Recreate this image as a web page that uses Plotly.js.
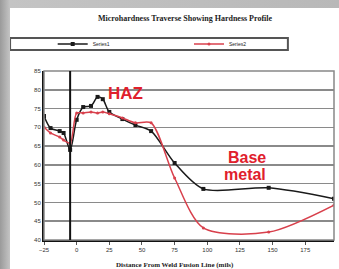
<!DOCTYPE html>
<html><head><meta charset="utf-8">
<script src="https://cdn.plot.ly/plotly-3.0.1.min.js"></script>
<style>
html,body{margin:0;padding:0;width:339px;height:269px;overflow:hidden;
background:linear-gradient(to right,#9a9a9a 0px,#c4c4c4 10px,#b8b8b8 100%);}
#chart{position:absolute;left:10px;top:8px;width:329px;height:261px;background:#fff;}
</style></head>
<body><div id="chart"></div>
<script>
const distance = [-25,-20,-13,-10,-5,0,5,11,16,20,25,35,45,57,75,97,147,197];
const traverse1 = [73.0,69.8,69.0,68.5,64.0,72.0,75.4,75.7,78.1,77.5,74.1,72.2,70.6,69.0,60.5,53.6,53.9,51.0];
const traverse2 = [70.1,68.5,67.4,66.6,65.8,73.8,73.8,74.1,73.8,74.1,73.6,72.5,71.2,71.2,56.5,43.2,42.1,49.3];
const seriesNames = ["Series1","Series2"];
const fusionLine = -5;
const yTicks = [40,45,50,55,60,65,70,75,80,85];
const xTicks = [-25,0,25,50,75,100,125,150,175];

const traces = [
 {x:distance,y:traverse1,name:seriesNames[0],type:'scatter',mode:'lines+markers',legend:'legend',
  line:{color:'#1a1a1a',width:1.5,shape:'spline',smoothing:0.8},
  marker:{color:'#1a1a1a',size:4,symbol:'square'}},
 {x:distance,y:traverse2,name:seriesNames[1],type:'scatter',mode:'lines+markers',legend:'legend2',
  line:{color:'#d8404c',width:1.5,shape:'spline',smoothing:0.8},
  marker:{color:'#d8404c',size:3,symbol:'circle'}}
];
const legendStyle = {orientation:'h',xanchor:'left',y:1.16,yanchor:'middle',itemwidth:30,
   font:{size:5,color:'#222'},bgcolor:'rgba(0,0,0,0)'};
const layout = {
 width:329,height:261,
 margin:{l:34,r:5,t:63,b:29},
 paper_bgcolor:'#ffffff',plot_bgcolor:'#ffffff',
 font:{family:'Liberation Sans, Arial',color:'#222'},
 title:{text:'<b>Microhardness Traverse Showing Hardness Profile</b>',
   font:{family:'Liberation Serif, Times New Roman',size:8,color:'#222'},
   x:0.532,xref:'container',xanchor:'center',y:0.962,yref:'container',yanchor:'middle'},
 showlegend:true,
 legend:Object.assign({x:0.03},legendStyle),
 legend2:Object.assign({x:0.50},legendStyle),
 xaxis:{range:[-25,197],tickvals:xTicks,showgrid:false,zeroline:false,
   showline:true,linecolor:'#111',linewidth:2,ticks:'outside',ticklen:3,tickcolor:'#555',
   tickfont:{size:6,color:'#333'}},
 yaxis:{range:[40,85],tickvals:yTicks,showgrid:true,gridcolor:'#8a8a8a',gridwidth:1.5,
   zeroline:false,showline:true,linecolor:'#111',linewidth:2,ticks:'',
   tickfont:{size:6,color:'#333'}},
 shapes:[
  {type:'rect',xref:'paper',yref:'paper',x0:0,x1:1,y0:0,y1:1,line:{color:'#888',width:1.5}},
  {type:'line',xref:'x',yref:'paper',x0:fusionLine,x1:fusionLine,y0:0,y1:1,line:{color:'#111',width:2}},
  {type:'rect',xref:'paper',yref:'paper',x0:-0.117,x1:0.841,y0:1.124,y1:1.195,
   line:{color:'#555',width:2},fillcolor:'rgba(0,0,0,0)'}
 ],
 annotations:[
  {text:'<b>HAZ</b>',xref:'paper',yref:'paper',x:0.214,y:0.935,showarrow:false,
   font:{size:17,color:'#e0202c',family:'Liberation Sans, Arial'}},
  {text:'<b>Base</b>',xref:'paper',yref:'paper',x:0.772,y:0.49,showarrow:false,
   font:{size:16,color:'#e0202c',family:'Liberation Sans, Arial'}},
  {text:'<b>metal</b>',xref:'paper',yref:'paper',x:0.772,y:0.385,showarrow:false,
   font:{size:16,color:'#e0202c',family:'Liberation Sans, Arial'}},
  {text:'<b>Distance From Weld Fusion Line (mils)</b>',xref:'paper',yref:'paper',
   x:0.452,y:-0.148,yanchor:'middle',showarrow:false,
   font:{size:7,color:'#222',family:'Liberation Serif, Times New Roman'}}
 ]
};
Plotly.newPlot('chart',traces,layout,{displayModeBar:false,staticPlot:true});
</script></body></html>
